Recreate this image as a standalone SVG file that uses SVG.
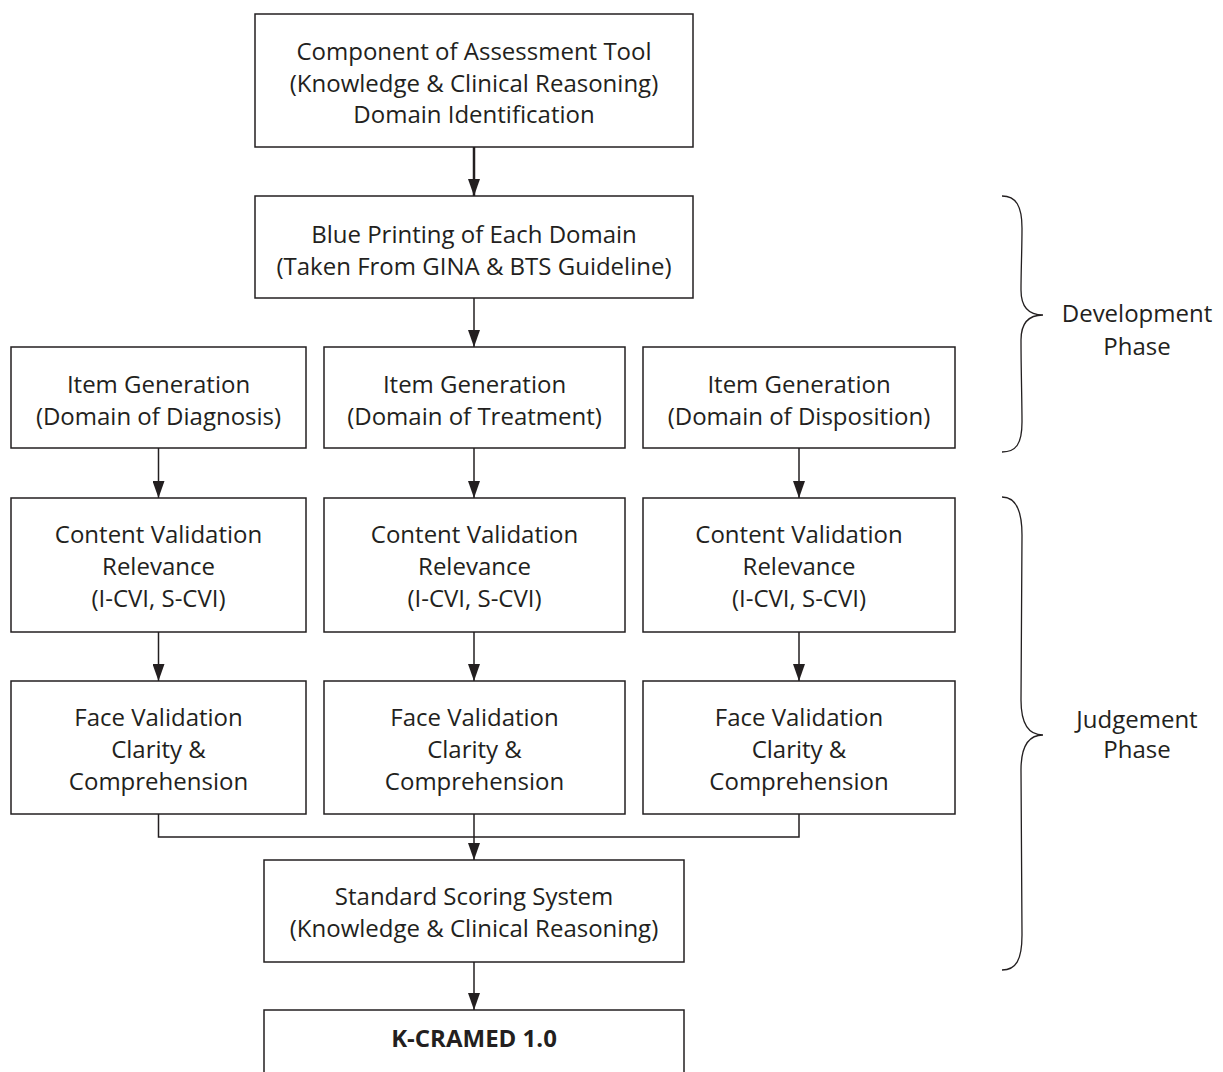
<svg xmlns="http://www.w3.org/2000/svg" width="1223" height="1072" viewBox="0 0 1223 1072">
<defs>
<style>
.box{fill:#ffffff;stroke:#231f20;stroke-width:1.5}
.t{font-family:"Open Sans","Noto Sans",sans-serif;font-size:24px;fill:#231f20;text-anchor:middle}
.b{font-weight:bold}
.c{fill:none;stroke:#231f20;stroke-width:1.5}
.thick{stroke-width:2.5}
.brace{fill:none;stroke:#231f20;stroke-width:1.3}
</style>
<marker id="ah" markerUnits="userSpaceOnUse" markerWidth="17" markerHeight="12" refX="17" refY="6" orient="auto">
<path d="M0,0 L17,6 L0,12 z" fill="#231f20"/>
</marker>
</defs>
<rect width="1223" height="1072" fill="#ffffff"/>
<g id="connectors">
<line class="c thick" x1="474" y1="147" x2="474" y2="196" marker-end="url(#ah)"/>
<line class="c" x1="474" y1="298" x2="474" y2="347" marker-end="url(#ah)"/>
<line class="c" x1="158.5" y1="448" x2="158.5" y2="498" marker-end="url(#ah)"/>
<line class="c" x1="474" y1="448" x2="474" y2="498" marker-end="url(#ah)"/>
<line class="c" x1="799" y1="448" x2="799" y2="498" marker-end="url(#ah)"/>
<line class="c" x1="158.5" y1="632" x2="158.5" y2="681" marker-end="url(#ah)"/>
<line class="c" x1="474" y1="632" x2="474" y2="681" marker-end="url(#ah)"/>
<line class="c" x1="799" y1="632" x2="799" y2="681" marker-end="url(#ah)"/>
<polyline class="c" points="158.5,814 158.5,837 799,837 799,814"/>
<line class="c" x1="474" y1="814" x2="474" y2="860" marker-end="url(#ah)"/>
<line class="c" x1="474" y1="962" x2="474" y2="1010" marker-end="url(#ah)"/>
</g>
<g id="n1">
<rect class="box" x="255" y="14" width="438" height="133"/>
<text class="t" x="474" y="60">Component of Assessment Tool</text>
<text class="t" x="474" y="92">(Knowledge &amp; Clinical Reasoning)</text>
<text class="t" x="474" y="123">Domain Identification</text>
</g>
<g id="n2">
<rect class="box" x="255" y="196" width="438" height="102"/>
<text class="t" x="474" y="243">Blue Printing of Each Domain</text>
<text class="t" x="474" y="275">(Taken From GINA &amp; BTS Guideline)</text>
</g>
<g id="n3a">
<rect class="box" x="11" y="347" width="295" height="101"/>
<text class="t" x="158.5" y="393">Item Generation</text>
<text class="t" x="158.5" y="425">(Domain of Diagnosis)</text>
</g>
<g id="n3b">
<rect class="box" x="324" y="347" width="301" height="101"/>
<text class="t" x="474.5" y="393">Item Generation</text>
<text class="t" x="474.5" y="425">(Domain of Treatment)</text>
</g>
<g id="n3c">
<rect class="box" x="643" y="347" width="312" height="101"/>
<text class="t" x="799" y="393">Item Generation</text>
<text class="t" x="799" y="425">(Domain of Disposition)</text>
</g>
<g id="n4a">
<rect class="box" x="11" y="498" width="295" height="134"/>
<text class="t" x="158.5" y="543">Content Validation</text>
<text class="t" x="158.5" y="575">Relevance</text>
<text class="t" x="158.5" y="607">(I-CVI, S-CVI)</text>
</g>
<g id="n4b">
<rect class="box" x="324" y="498" width="301" height="134"/>
<text class="t" x="474.5" y="543">Content Validation</text>
<text class="t" x="474.5" y="575">Relevance</text>
<text class="t" x="474.5" y="607">(I-CVI, S-CVI)</text>
</g>
<g id="n4c">
<rect class="box" x="643" y="498" width="312" height="134"/>
<text class="t" x="799" y="543">Content Validation</text>
<text class="t" x="799" y="575">Relevance</text>
<text class="t" x="799" y="607">(I-CVI, S-CVI)</text>
</g>
<g id="n5a">
<rect class="box" x="11" y="681" width="295" height="133"/>
<text class="t" x="158.5" y="726">Face Validation</text>
<text class="t" x="158.5" y="758">Clarity &amp;</text>
<text class="t" x="158.5" y="790">Comprehension</text>
</g>
<g id="n5b">
<rect class="box" x="324" y="681" width="301" height="133"/>
<text class="t" x="474.5" y="726">Face Validation</text>
<text class="t" x="474.5" y="758">Clarity &amp;</text>
<text class="t" x="474.5" y="790">Comprehension</text>
</g>
<g id="n5c">
<rect class="box" x="643" y="681" width="312" height="133"/>
<text class="t" x="799" y="726">Face Validation</text>
<text class="t" x="799" y="758">Clarity &amp;</text>
<text class="t" x="799" y="790">Comprehension</text>
</g>
<g id="n6">
<rect class="box" x="264" y="860" width="420" height="102"/>
<text class="t" x="474" y="905">Standard Scoring System</text>
<text class="t" x="474" y="937">(Knowledge &amp; Clinical Reasoning)</text>
</g>
<g id="n7">
<rect class="box" x="264" y="1010" width="420" height="80"/>
<text class="t b" x="474" y="1047">K-CRAMED 1.0</text>
</g>
<g id="dev-phase">
<path class="brace" d="M1002,196 C1016,196 1022,206 1022,228 C1022,250 1021,270 1021,290 C1021,308 1030,315 1043,315 C1030,315 1021,322 1021,340 C1021,370 1022,400 1022,422 C1022,444 1016,452 1002,452"/>
<text class="t" x="1137" y="322">Development</text>
<text class="t" x="1137" y="355">Phase</text>
</g>
<g id="judge-phase">
<path class="brace" d="M1002,497 C1016,497 1022,510 1022,535 C1022,600 1021,650 1021,700 C1021,725 1030,735 1043,735 C1030,735 1021,745 1021,770 C1021,830 1022,890 1022,935 C1022,960 1016,970 1002,970"/>
<text class="t" x="1137" y="728">Judgement</text>
<text class="t" x="1137" y="758">Phase</text>
</g>
</svg>
